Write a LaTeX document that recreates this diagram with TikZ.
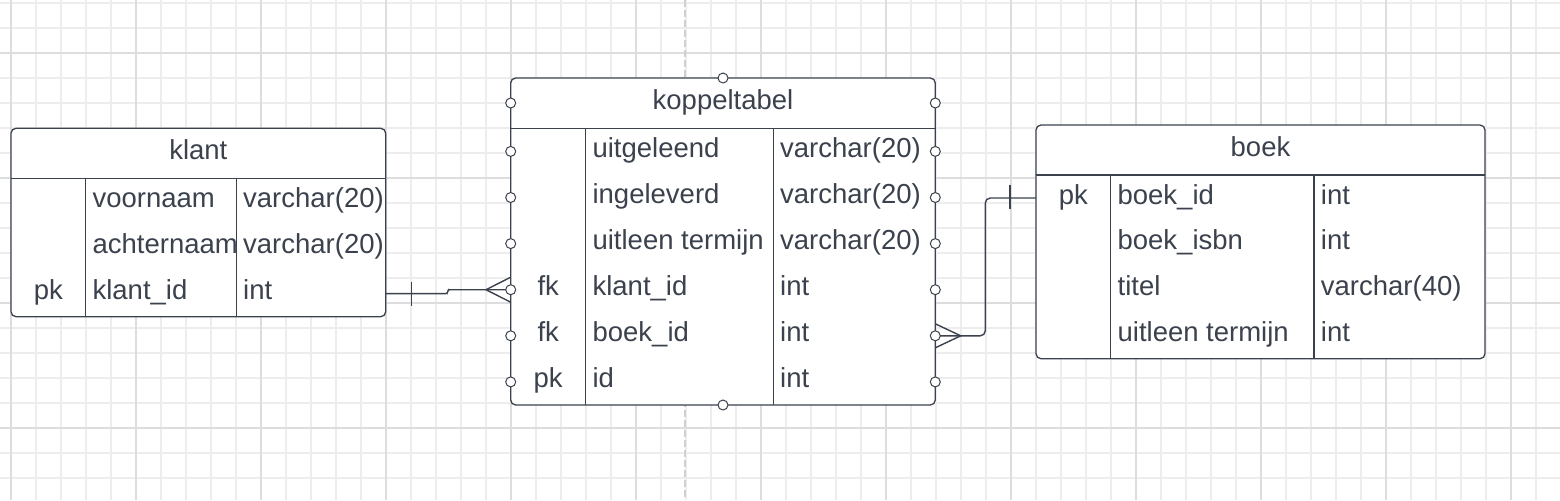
\documentclass[tikz,border=0pt]{standalone}
\usepackage{fontspec}
\setmainfont{Liberation Sans}

\definecolor{ink}{HTML}{3B424D}
\definecolor{gridminor}{HTML}{EDEDED}
\definecolor{gridmajor}{HTML}{DDDDDD}
\definecolor{dashgray}{HTML}{D0D0D0}

\begin{document}
\begin{tikzpicture}[
              x = 0.5pt, y = -0.5pt,
           font = \fontsize{13.75}{16}\selectfont,
 minorline/.style = {draw=gridminor, line width=0.75pt},
 majorline/.style = {draw=gridmajor, line width=1pt},
       tbl/.style = {draw=ink, fill=white, line width=0.65pt, rounded corners=2.5pt},
     hline/.style = {draw=ink, line width=0.6pt},
    header/.style = {anchor=base, inner sep=0pt, text=ink},
    colkey/.style = {anchor=base, inner sep=0pt, text=ink},
      cell/.style = {anchor=base west, inner sep=0pt, text=ink},
       rel/.style = {draw=ink, line width=0.7pt},
      port/.style = {circle, draw=ink, fill=white, line width=0.5pt, inner sep=0pt, minimum size=5pt}
                        ]
\useasboundingbox (0,0) rectangle (1560,500);
\fill[white] (0,0) rectangle (1560,500);
% grid
\foreach \x in {11,36,...,1561} \draw[minorline] (\x,0) -- (\x,500);
\foreach \y in {3,28,...,500} \draw[minorline] (0,\y) -- (1560,\y);
\foreach \x in {11,136,...,1561} \draw[majorline] (\x,0) -- (\x,500);
\foreach \y in {53,178,...,500} \draw[majorline] (0,\y) -- (1560,\y);
\draw[dashgray, line width=1pt, dash pattern=on 3.5pt off 1.5pt] (685,0) -- (685,500);

% klant
\draw[tbl] (11,128.3) rectangle (385.7,316.7);
\draw[hline] (11,178.3) -- (385.7,178.3);
\draw[hline] (85.7,178.3) -- (85.7,316.7);
\draw[hline] (236.3,178.3) -- (236.3,316.7);
\node (klant)     [header] at (198.3,159.3) {klant};
\node (klant-vn)  [cell]   at (92.2,207.4)  {voornaam};
\node (klant-vnt) [cell]   at (242.8,207.4) {varchar(20)};
\node (klant-an)  [cell]   at (92.2,253.5)  {achternaam};
\node (klant-ant) [cell]   at (242.8,253.5) {varchar(20)};
\node (klant-pk)  [colkey] at (48.3,299.6)  {pk};
\node (klant-id)  [cell]   at (92.2,299.6)  {klant\_id};
\node (klant-idt) [cell]   at (242.8,299.6) {int};
\coordinate (klant-out) at (385.7,293.6);

% koppeltabel
\draw[tbl] (510.7,78) rectangle (935.3,405);
\draw[hline] (510.7,128.3) -- (935.3,128.3);
\draw[hline] (585.7,128.3) -- (585.7,405);
\draw[hline] (773.3,128.3) -- (773.3,405);
\node (kop)      [header] at (723,109.8)   {koppeltabel};
\node (kop-uit)  [cell]   at (592.2,157.4) {uitgeleend};
\node (kop-uitt) [cell]   at (779.8,157.4) {varchar(20)};
\node (kop-in)   [cell]   at (592.2,203.5) {ingeleverd};
\node (kop-int)  [cell]   at (779.8,203.5) {varchar(20)};
\node (kop-ut)   [cell]   at (592.2,249.6) {uitleen termijn};
\node (kop-utt)  [cell]   at (779.8,249.6) {varchar(20)};
\node (kop-fk1)  [colkey] at (548.2,295.7) {fk};
\node (kop-kid)  [cell]   at (592.2,295.7) {klant\_id};
\node (kop-kidt) [cell]   at (779.8,295.7) {int};
\node (kop-fk2)  [colkey] at (548.2,341.8) {fk};
\node (kop-bid)  [cell]   at (592.2,341.8) {boek\_id};
\node (kop-bidt) [cell]   at (779.8,341.8) {int};
\node (kop-pk)   [colkey] at (548.2,387.9) {pk};
\node (kop-id)   [cell]   at (592.2,387.9) {id};
\node (kop-idt)  [cell]   at (779.8,387.9) {int};
\coordinate (kop-left)  at (510.7,289.7);
\coordinate (kop-right) at (935.3,335.8);

% boek
\draw[tbl] (1036,125) rectangle (1485,358.7);
\draw[hline] (1036,175) -- (1485,175);
\draw[hline] (1110.7,175) -- (1110.7,358.7);
\draw[hline] (1314,175) -- (1314,358.7);
\node (boek)      [header] at (1260.5,156)  {boek};
\node (boek-pk)   [colkey] at (1073.3,204)  {pk};
\node (boek-id)   [cell]   at (1117.2,204)  {boek\_id};
\node (boek-idt)  [cell]   at (1320.5,204)  {int};
\node (boek-isbn) [cell]   at (1117.2,249.9) {boek\_isbn};
\node (boek-isbnt)[cell]   at (1320.5,249.9) {int};
\node (boek-tit)  [cell]   at (1117.2,295.8) {titel};
\node (boek-titt) [cell]   at (1320.5,295.8) {varchar(40)};
\node (boek-ut)   [cell]   at (1117.2,341.7) {uitleen termijn};
\node (boek-utt)  [cell]   at (1320.5,341.7) {int};
\coordinate (boek-in) at (1036,198);

% relations
\draw[rel, rounded corners=1pt] (klant-out) -- ++(62,0) |- (kop-left);
\draw[rel] (klant-out) ++(25.5,-11.5) -- ++(0,24);
\draw[rel] (kop-left) ++(0,-12.5) -- ++(-24.7,12.5) -- ++(24.7,12.5);
\draw[rel, rounded corners=2.5pt] (kop-right) -- ++(50,0) |- (boek-in);
\draw[rel] (boek-in) ++(-26,-13) -- ++(0,24);
\draw[rel] (kop-right) ++(0,-12) -- ++(25.4,12) -- ++(-25.4,12);

% ports
\node (kop-top) [port] at (723,78) {};
\node (kop-bot) [port] at (723,405) {};
\foreach \y [count=\i] in {103,151.4,197.5,243.6,289.7,335.8,381.9} {
  \node (kop-l\i) [port] at (510.7,\y) {};
  \node (kop-r\i) [port] at (935.3,\y) {};
}
\end{tikzpicture}
\end{document}
